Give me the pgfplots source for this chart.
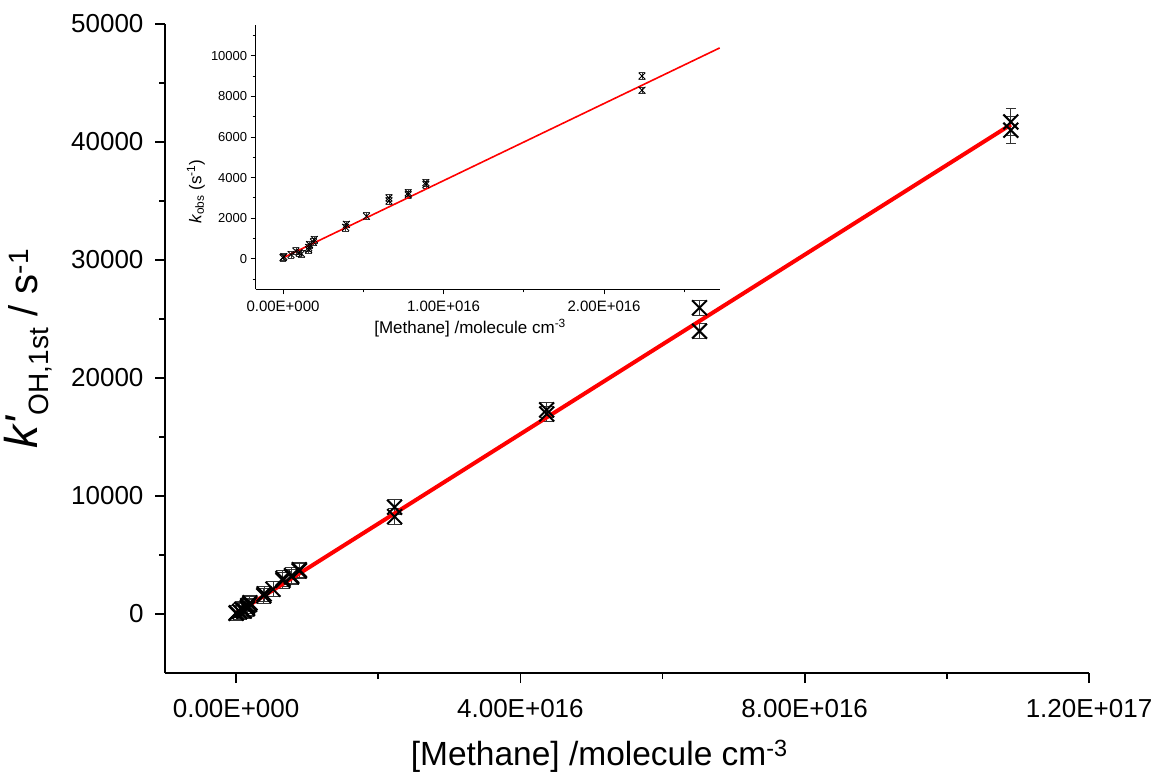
\documentclass[border=0pt]{standalone}
\usepackage{pgfplots}
\pgfplotsset{compat=1.18}
\usepackage{fontspec}
\setmainfont{Liberation Sans}

\pgfplotstableread{
x y e
0.000e16 60 650
0.005e16 110 650
0.050e16 210 650
0.080e16 380 650
0.100e16 300 650
0.115e16 250 650
0.160e16 450 650
0.160e16 560 650
0.165e16 700 650
0.190e16 820 650
0.195e16 950 650
0.390e16 1550 650
0.395e16 1700 650
0.520e16 2100 650
0.660e16 2850 650
0.660e16 3000 650
0.780e16 3150 650
0.780e16 3250 650
0.890e16 3650 650
0.890e16 3750 650
2.230e16 9050 650
2.230e16 8250 650
4.370e16 17300 650
4.370e16 16950 650
6.520e16 25950 650
6.520e16 23970 650
}\maindata

\pgfplotstableread{
x y e
10.9e16 41700 1150
10.9e16 41000 1150
}\farpoints

\pgfplotstableread{
x y e
0.000e16 60 170
0.005e16 110 170
0.050e16 210 170
0.080e16 380 170
0.100e16 300 170
0.115e16 250 170
0.160e16 450 170
0.160e16 560 170
0.165e16 700 170
0.190e16 820 170
0.195e16 950 170
0.390e16 1550 170
0.395e16 1700 170
0.520e16 2100 170
0.660e16 2850 170
0.660e16 3000 170
0.780e16 3150 170
0.780e16 3250 170
0.890e16 3650 170
0.890e16 3750 170
2.236e16 9000 170
2.236e16 8300 170
}\insetdata

\begin{document}
\begin{tikzpicture}
\path[use as bounding box] (0pt,0pt) rectangle (1156pt,777pt);
\begin{axis}[
  at={(165pt,104pt)}, anchor=south west, scale only axis,
  width=924pt, height=649pt,
  xmin=-1e16, xmax=1.2e17, ymin=-5000, ymax=50000,
  axis x line*=bottom, axis y line*=left,
  axis line style={line width=1.6pt,-},
  tick align=outside,
  major tick length=10pt, minor tick length=6pt,
  every tick/.style={line width=1.6pt, black},
  xtick={0,4e16,8e16,1.2e17},
  xticklabels={0.00E+000,4.00E+016,8.00E+016,1.20E+017},
  minor xtick={2e16,6e16,1e17},
  ytick={0,10000,20000,30000,40000,50000},
  yticklabels={0,10000,20000,30000,40000,50000},
  minor ytick={5000,15000,25000,35000,45000},
  scaled x ticks=false, scaled y ticks=false,
  tick label style={font=\fontsize{26}{30}\selectfont},
  xticklabel style={yshift=-13pt},
  yticklabel style={xshift=-8pt},
  xlabel={[Methane] /molecule cm\textsuperscript{-3}},
  xlabel style={font=\fontsize{33.5}{40}\selectfont, at={(axis description cs:0.47,-0.128)}, anchor=center},
  ylabel={{\fontsize{46}{50}\selectfont\textit{k\textquotesingle}}\textsubscript{OH,1st} / s\textsuperscript{-1}},
  ylabel style={font=\fontsize{40}{46}\selectfont, at={(axis description cs:-0.148,0.5)}, anchor=center},
  clip=false,
]
\addplot[only marks, mark=x, mark size=10.5pt, mark options={line width=2pt, black}, black,
  error bars/.cd, y dir=both, y explicit,
  error bar style={line width=1pt, black!80},
  error mark options={rotate=90, black!80, mark size=7pt, line width=1pt}]
  table[x=x, y=y, y error=e] {\maindata};
\addplot[only marks, mark=x, mark size=10.5pt, mark options={line width=2pt, black}, black,
  error bars/.cd, y dir=both, y explicit,
  error bar style={line width=1pt, black!80},
  error mark options={rotate=90, black!80, mark size=5pt, line width=1pt}]
  table[x=x, y=y, y error=e] {\farpoints};
\addplot[red, line width=4pt] coordinates {(0,50) (1.09e17,41470)};
\end{axis}

\begin{axis}[
  at={(255.7pt,487.7pt)}, anchor=south west, scale only axis,
  width=464pt, height=264pt,
  xmin=-0.17e16, xmax=2.72e16, ymin=-1500, ymax=11500,
  axis x line*=bottom, axis y line*=left,
  axis line style={line width=1pt,-},
  tick align=outside,
  major tick length=5pt, minor tick length=3pt,
  every tick/.style={line width=0.9pt, black},
  xtick={0,1e16,2e16},
  xticklabels={0.00E+000,1.00E+016,2.00E+016},
  minor xtick={0.5e16,1.5e16,2.5e16},
  ytick={0,2000,4000,6000,8000,10000},
  yticklabels={0,2000,4000,6000,8000,10000},
  minor ytick={-1000,1000,3000,5000,7000,9000,11000},
  scaled x ticks=false, scaled y ticks=false,
  xticklabel style={font=\fontsize{15}{18}\selectfont, yshift=-3pt},
  yticklabel style={font=\fontsize{13}{16}\selectfont},
  xlabel={[Methane] /molecule cm\textsuperscript{-3}},
  xlabel style={font=\fontsize{17}{20}\selectfont, at={(axis description cs:0.462,-0.147)}, anchor=center},
  ylabel={\textit{k}\textsubscript{obs} (s\textsuperscript{-1})},
  ylabel style={font=\fontsize{17}{20}\selectfont, at={(axis description cs:-0.129,0.37)}, anchor=center},
  clip=false,
]
\addplot[only marks, mark=x, mark size=4.8pt, mark options={line width=0.9pt, black}, black,
  error bars/.cd, y dir=both, y explicit,
  error bar style={line width=0.6pt, black!80},
  error mark options={rotate=90, black!80, mark size=3.2pt, line width=0.6pt}]
  table[x=x, y=y, y error=e] {\insetdata};
\addplot[red, line width=1.6pt] coordinates {(0,50) (2.72e16,10386)};
\end{axis}
\end{tikzpicture}
\end{document}
